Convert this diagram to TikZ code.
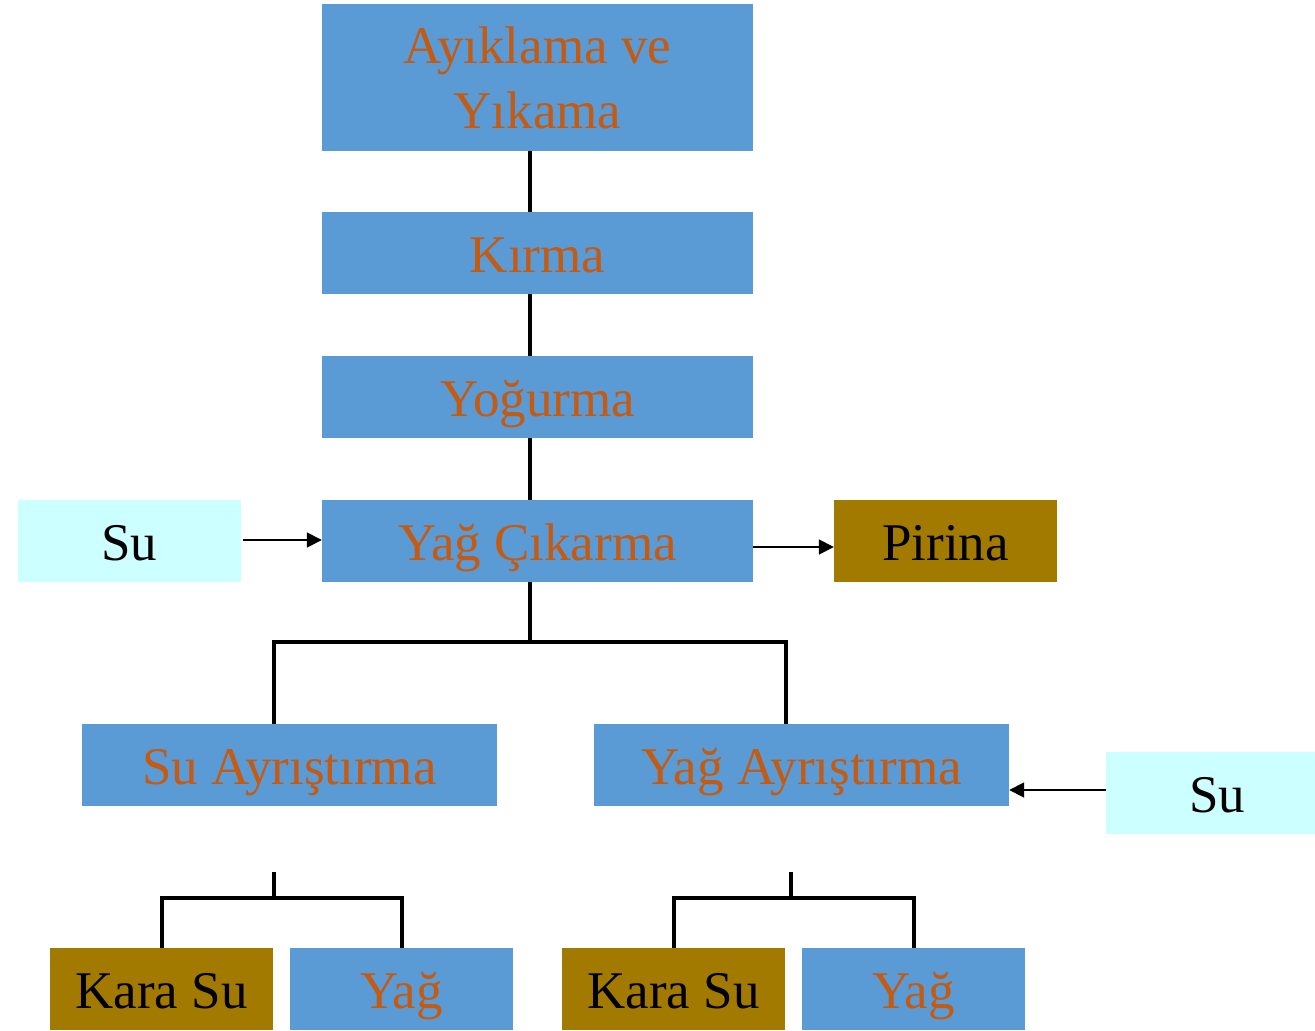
\documentclass[tikz,border=0pt]{standalone}
\usepackage{fontspec}
\setmainfont{Liberation Serif}
\usetikzlibrary{arrows.meta}
\definecolor{procblue}{RGB}{91,155,213}
\definecolor{proctext}{RGB}{197,90,17}
\definecolor{watercyan}{RGB}{204,255,255}
\definecolor{wastebrown}{RGB}{163,122,0}
\begin{document}
\begin{tikzpicture}[x=1pt,y=-1pt,
  box/.style={draw=none,inner sep=0pt,align=center,font=\fontsize{53}{65}\selectfont},
  oneline/.style={text height=42pt,text depth=4pt,minimum height=82pt},
  proc/.style={box,fill=procblue,text=proctext},
  water/.style={box,fill=watercyan,text=black},
  waste/.style={box,fill=wastebrown,text=black},
  link/.style={line width=3.5pt},
  feed/.style={line width=1.8pt,-{Triangle[length=15pt,width=15pt]}}]
\useasboundingbox (0,0) rectangle (1315,1031);

% main process chain
\node[proc,minimum width=431pt,minimum height=147pt] (ayik) at (537.5,77.5) {Ayıklama ve\\Yıkama};
\node[proc,oneline,minimum width=431pt] (kirma) at (537.5,253) {Kırma};
\node[proc,oneline,minimum width=431pt] (yog) at (537.5,397) {Yoğurma};
\node[proc,oneline,minimum width=431pt] (cik) at (537.5,541) {Yağ Çıkarma};

% inputs and by-products
\node[water,oneline,minimum width=223pt] (su1) at (129.5,541) {Su};
\node[waste,oneline,minimum width=223pt] (pirina) at (945.5,541) {Pirina};

% separation stage
\node[proc,oneline,minimum width=415pt] (suay) at (289.5,765) {Su Ayrıştırma};
\node[proc,oneline,minimum width=415pt] (yagay) at (801.5,765) {Yağ Ayrıştırma};
\node[water,oneline,minimum width=223pt] (su2) at (1217.5,793) {Su};

% final products
\node[waste,oneline,minimum width=223pt] (kara1) at (161.5,989) {Kara Su};
\node[proc,oneline,minimum width=223pt] (yag1) at (401.5,989) {Yağ};
\node[waste,oneline,minimum width=223pt] (kara2) at (673.5,989) {Kara Su};
\node[proc,oneline,minimum width=223pt] (yag2) at (913.5,989) {Yağ};

% chain links
\draw[link] (ayik.south -| 530,0) -- (kirma.north -| 530,0);
\draw[link] (kirma.south -| 530,0) -- (yog.north -| 530,0);
\draw[link] (yog.south -| 530,0) -- (cik.north -| 530,0);

% split after extraction
\coordinate (split) at (530,642);
\draw[link] (cik.south -| split) -- (split);
\draw[link] (suay.north -| 274,0) |- (split) -| (yagay.north -| 786,0);

% split after each separator
\coordinate (s1top) at (274,872);
\coordinate (s1) at (274,898);
\draw[link] (s1top) -- (s1);
\draw[link] (kara1.north -| 162,0) |- (s1) -| (yag1.north -| 402,0);
\coordinate (s2top) at (791,872);
\coordinate (s2) at (791,898);
\draw[link] (s2top) -- (s2);
\draw[link] (kara2.north -| 674,0) |- (s2) -| (yag2.north -| 914,0);

% feeds
\draw[feed] (su1.east |- 0,540) ++(2,0) -- (cik.west |- 0,540);
\draw[feed] (cik.east |- 0,547) -- (pirina.west |- 0,547);
\draw[feed] (su2.west |- 0,790) -- (yagay.east |- 0,790);
\end{tikzpicture}
\end{document}
